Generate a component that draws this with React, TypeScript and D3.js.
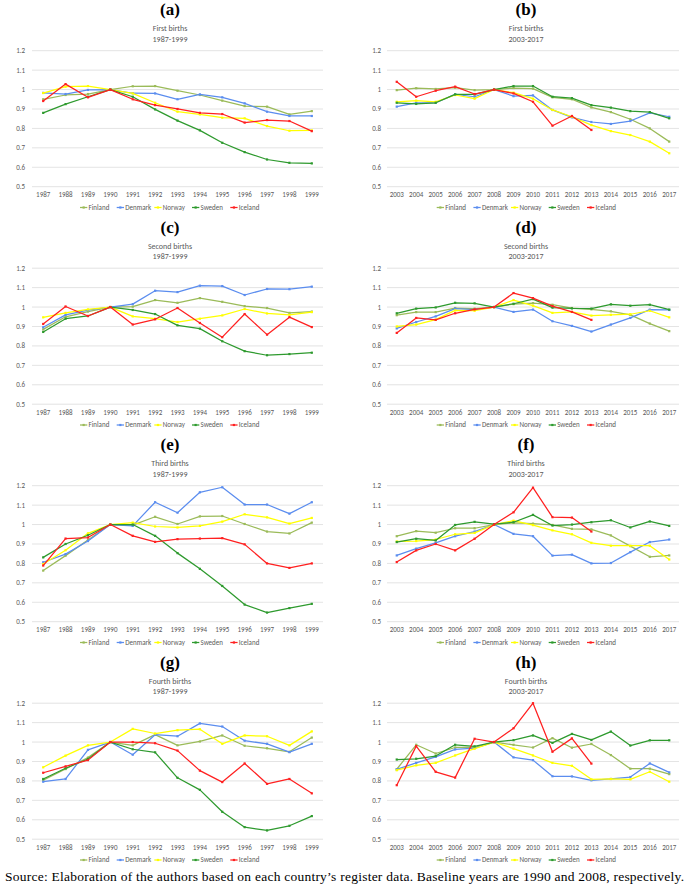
import React from "react";
import * as d3 from "d3";

const COUNTRIES = ["Finland", "Denmark", "Norway", "Sweden", "Iceland"];
const COLORS = ["#9BBB59", "#5B8DEF", "#FFFF00", "#2E9A2E", "#FF2020"];
const YEARS_EARLY = ["1987","1988","1989","1990","1991","1992","1993","1994","1995","1996","1997","1998","1999"];
const YEARS_LATE = ["2003","2004","2005","2006","2007","2008","2009","2010","2011","2012","2013","2014","2015","2016","2017"];
const Y_TICKS = [0.5, 0.6, 0.7, 0.8, 0.9, 1, 1.1, 1.2];

// (a) First births 1987-1999
const A_FINLAND = [0.95, 0.972, 0.977, 1.0, 1.017, 1.018, 0.994, 0.972, 0.943, 0.915, 0.912, 0.872, 0.889];
const A_DENMARK = [0.983, 0.977, 0.998, 1.0, 0.981, 0.98, 0.95, 0.975, 0.96, 0.929, 0.886, 0.864, 0.864];
const A_NORWAY = [0.982, 1.015, 1.018, 1.0, 0.98, 0.932, 0.886, 0.872, 0.855, 0.852, 0.812, 0.788, 0.79];
const A_SWEDEN = [0.88, 0.925, 0.963, 1.0, 0.963, 0.898, 0.84, 0.79, 0.726, 0.678, 0.64, 0.623, 0.62];
const A_ICELAND = [0.941, 1.028, 0.96, 1.0, 0.95, 0.92, 0.9, 0.88, 0.874, 0.83, 0.843, 0.838, 0.786];

// (b) First births 2003-2017
const B_FINLAND = [0.997, 1.007, 1.003, 1.01, 0.997, 1.0, 1.008, 1.005, 0.96, 0.95, 0.908, 0.884, 0.847, 0.8, 0.732];
const B_DENMARK = [0.912, 0.932, 0.932, 0.975, 0.963, 1.0, 0.966, 0.97, 0.895, 0.857, 0.833, 0.823, 0.838, 0.88, 0.86];
const B_NORWAY = [0.937, 0.943, 0.937, 0.972, 0.953, 1.0, 0.984, 0.953, 0.895, 0.86, 0.817, 0.786, 0.766, 0.732, 0.672];
const B_SWEDEN = [0.932, 0.926, 0.932, 0.975, 0.975, 1.0, 1.018, 1.018, 0.963, 0.956, 0.92, 0.907, 0.889, 0.884, 0.852];
const B_ICELAND = [1.04, 0.963, 0.994, 1.015, 0.977, 1.0, 0.98, 0.937, 0.814, 0.864, 0.792, null, null, null, null];

// (c) Second births 1987-1999
const C_FINLAND = [0.885, 0.95, 0.977, 1.0, 1.002, 1.036, 1.022, 1.046, 1.027, 1.005, 0.995, 0.97, 0.977];
const C_DENMARK = [0.896, 0.96, 0.984, 1.0, 1.015, 1.084, 1.077, 1.11, 1.108, 1.062, 1.093, 1.092, 1.105];
const C_NORWAY = [0.947, 0.97, 0.988, 1.0, 0.952, 0.94, 0.923, 0.94, 0.957, 0.99, 0.967, 0.96, 0.974];
const C_SWEDEN = [0.872, 0.94, 0.954, 1.0, 0.985, 0.964, 0.906, 0.889, 0.824, 0.773, 0.752, 0.758, 0.765];
const C_ICELAND = [0.913, 1.003, 0.954, 1.0, 0.91, 0.937, 0.995, 0.918, 0.845, 0.964, 0.858, 0.948, 0.897];

// (d) Second births 2003-2017
const D_FINLAND = [0.958, 0.974, 0.974, 0.995, 0.992, 1.0, 1.015, 1.02, 1.012, 0.995, 0.988, 0.978, 0.96, 0.915, 0.876];
const D_DENMARK = [0.89, 0.923, 0.952, 0.992, 0.987, 1.0, 0.975, 0.987, 0.927, 0.903, 0.874, 0.91, 0.944, 0.987, 0.985];
const D_NORWAY = [0.9, 0.91, 0.935, 0.983, 0.981, 1.0, 1.036, 1.007, 0.97, 0.975, 0.956, 0.96, 0.963, 0.981, 0.947];
const D_SWEDEN = [0.968, 0.992, 0.998, 1.022, 1.019, 1.0, 1.017, 1.041, 0.997, 0.993, 0.992, 1.014, 1.007, 1.012, 0.987];
const D_ICELAND = [0.867, 0.944, 0.934, 0.968, 0.988, 1.0, 1.072, 1.046, 1.005, 0.975, 0.934, null, null, null, null];

// (e) Third births 1987-1999
const E_FINLAND = [0.763, 0.84, 0.92, 1.0, 0.997, 1.04, 1.003, 1.042, 1.044, 1.003, 0.964, 0.954, 1.01];
const E_DENMARK = [0.806, 0.848, 0.915, 1.0, 0.993, 1.115, 1.061, 1.166, 1.192, 1.103, 1.103, 1.056, 1.115];
const E_NORWAY = [0.797, 0.868, 0.955, 1.0, 1.01, 0.99, 0.985, 0.993, 1.015, 1.053, 1.037, 1.005, 1.034];
const E_SWEDEN = [0.831, 0.9, 0.945, 1.0, 1.0, 0.942, 0.853, 0.772, 0.684, 0.588, 0.547, 0.57, 0.592];
const E_ICELAND = [0.789, 0.928, 0.933, 1.0, 0.942, 0.911, 0.925, 0.928, 0.93, 0.898, 0.8, 0.777, 0.8];

// (f) Third births 2003-2017
const F_FINLAND = [0.94, 0.966, 0.958, 0.981, 0.981, 1.0, 1.009, 1.005, 0.998, 0.978, 0.975, 0.944, 0.889, 0.834, 0.841];
const F_DENMARK = [0.841, 0.876, 0.906, 0.94, 0.964, 1.0, 0.952, 0.94, 0.84, 0.845, 0.8, 0.802, 0.858, 0.91, 0.923];
const F_NORWAY = [0.913, 0.915, 0.923, 0.95, 0.957, 1.0, 1.02, 0.997, 0.97, 0.95, 0.906, 0.891, 0.891, 0.891, 0.82];
const F_SWEDEN = [0.91, 0.927, 0.918, 0.998, 1.014, 1.002, 1.012, 1.05, 0.995, 1.0, 1.012, 1.022, 0.985, 1.016, 0.993];
const F_ICELAND = [0.807, 0.867, 0.9, 0.867, 0.927, 1.0, 1.063, 1.19, 1.038, 1.036, 0.964, null, null, null, null];

// (g) Fourth births 1987-1999
const G_FINLAND = [0.804, 0.861, 0.92, 1.0, 0.983, 1.038, 0.983, 1.003, 1.034, 0.981, 0.968, 0.95, 1.023];
const G_DENMARK = [0.796, 0.81, 0.96, 1.0, 0.935, 1.038, 1.03, 1.096, 1.08, 1.007, 0.991, 0.948, 0.991];
const G_NORWAY = [0.87, 0.93, 0.983, 1.0, 1.068, 1.044, 1.061, 1.066, 0.991, 1.034, 1.03, 0.983, 1.055];
const G_SWEDEN = [0.81, 0.865, 0.913, 1.0, 0.963, 0.947, 0.816, 0.754, 0.641, 0.562, 0.545, 0.569, 0.619];
const G_ICELAND = [0.842, 0.875, 0.907, 1.0, 1.0, 0.994, 0.956, 0.853, 0.794, 0.89, 0.785, 0.81, 0.736];

// (h) Fourth births 2003-2017
const H_FINLAND = [0.86, 0.986, 0.941, 0.972, 0.972, 1.0, 0.986, 0.972, 1.02, 0.971, 0.99, 0.933, 0.863, 0.863, 0.835];
const H_DENMARK = [0.859, 0.893, 0.924, 0.962, 0.969, 1.0, 0.921, 0.907, 0.824, 0.823, 0.803, 0.81, 0.82, 0.89, 0.844];
const H_NORWAY = [0.855, 0.88, 0.893, 0.931, 0.966, 1.0, 0.966, 0.931, 0.893, 0.878, 0.808, 0.81, 0.808, 0.847, 0.796];
const H_SWEDEN = [0.91, 0.914, 0.928, 0.986, 0.978, 1.0, 1.01, 1.034, 0.996, 1.042, 1.011, 1.054, 0.982, 1.009, 1.009];
const H_ICELAND = [0.778, 0.979, 0.847, 0.817, 1.017, 1.0, 1.071, 1.2, 0.95, 1.019, 0.889, null, null, null, null];

const PANEL_LABELS = ["(a)", "(b)", "(c)", "(d)", "(e)", "(f)", "(g)", "(h)"];
const PANEL_TITLES = ["First births", "First births", "Second births", "Second births", "Third births", "Third births", "Fourth births", "Fourth births"];
const PANEL_PERIODS = ["1987-1999", "2003-2017", "1987-1999", "2003-2017", "1987-1999", "2003-2017", "1987-1999", "2003-2017"];
const PANEL_SERIES = [
  [A_FINLAND, A_DENMARK, A_NORWAY, A_SWEDEN, A_ICELAND],
  [B_FINLAND, B_DENMARK, B_NORWAY, B_SWEDEN, B_ICELAND],
  [C_FINLAND, C_DENMARK, C_NORWAY, C_SWEDEN, C_ICELAND],
  [D_FINLAND, D_DENMARK, D_NORWAY, D_SWEDEN, D_ICELAND],
  [E_FINLAND, E_DENMARK, E_NORWAY, E_SWEDEN, E_ICELAND],
  [F_FINLAND, F_DENMARK, F_NORWAY, F_SWEDEN, F_ICELAND],
  [G_FINLAND, G_DENMARK, G_NORWAY, G_SWEDEN, G_ICELAND],
  [H_FINLAND, H_DENMARK, H_NORWAY, H_SWEDEN, H_ICELAND],
];

const SOURCE_TEXT = "Source: Elaboration of the authors based on each country\u2019s register data. Baseline years are 1990 and 2008, respectively.";

const SANS = "Carlito, 'Liberation Sans', Arial, sans-serif";
const SERIF = "'Liberation Serif', 'Times New Roman', serif";
const GRAY = "#595959";

const LAYOUT_EARLY = { plotLeft: 32, plotRight: 323, yLabelRight: 25, titleCx: 170, legendStart: 80 };
const LAYOUT_LATE = { plotLeft: 42, plotRight: 334, yLabelRight: 36, titleCx: 181, legendStart: 91.7 };
const LEGEND_OFFSETS = [0, 36.7, 74.3, 112, 150.3];

function Panel({ index }: { index: number }) {
  const col = index % 2;
  const row = Math.floor(index / 2);
  const years = col === 0 ? YEARS_EARLY : YEARS_LATE;
  const L = col === 0 ? LAYOUT_EARLY : LAYOUT_LATE;
  const ox = col * 345;
  const top = 50.7 + row * 217.5;
  const plotH = 136;
  const x = d3.scalePoint<string>().domain(years).range([L.plotLeft, L.plotRight]).padding(0.5);
  const y = d3.scaleLinear().domain([0.5, 1.2]).range([top + plotH, top]);
  const series = PANEL_SERIES[index];
  const line = d3
    .line<number | null>()
    .defined((d) => d !== null)
    .x((_, i) => x(years[i]) as number)
    .y((d) => y(d as number));

  return (
    <g transform={`translate(${ox},0)`}>
      <text x={L.titleCx} y={top - 35.7} textAnchor="middle" fontFamily={SERIF} fontWeight="bold" fontSize={17} fill="#000">
        {PANEL_LABELS[index]}
      </text>
      <text x={L.titleCx} y={top - 19.7} textAnchor="middle" fontFamily={SANS} fontSize={8} fill={GRAY}>
        {PANEL_TITLES[index]}
      </text>
      <text x={L.titleCx} y={top - 9} textAnchor="middle" fontFamily={SANS} fontSize={8} fill={GRAY}>
        {PANEL_PERIODS[index]}
      </text>
      {Y_TICKS.map((t) => (
        <g key={t}>
          <line x1={L.plotLeft} x2={L.plotRight} y1={y(t)} y2={y(t)} stroke="#D9D9D9" strokeWidth={0.75} />
          <text x={L.yLabelRight} y={y(t)} dy="0.35em" textAnchor="end" fontFamily={SANS} fontSize={7} fill={GRAY}>
            {d3.format("")(+t.toFixed(1))}
          </text>
        </g>
      ))}
      {years.map((yr) => (
        <text key={yr} x={x(yr)} y={top + plotH + 10.5} textAnchor="middle" fontFamily={SANS} fontSize={7} fill={GRAY}>
          {yr}
        </text>
      ))}
      {series.map((s, si) => (
        <g key={si}>
          <path d={line(s) || ""} fill="none" stroke={COLORS[si]} strokeWidth={1.25} strokeLinejoin="round" />
          {s.map((v, i) =>
            v === null ? null : (
              <rect key={i} x={(x(years[i]) as number) - 1.1} y={y(v) - 1.1} width={2.2} height={2.2} fill={COLORS[si]} />
            )
          )}
        </g>
      ))}
      {COUNTRIES.map((c, ci) => {
        const lx = L.legendStart + LEGEND_OFFSETS[ci];
        const ly = top + 156.8;
        return (
          <g key={c}>
            <line x1={lx} x2={lx + 7.3} y1={ly} y2={ly} stroke={COLORS[ci]} strokeWidth={1.25} />
            <rect x={lx + 3.65 - 1.1} y={ly - 1.1} width={2.2} height={2.2} fill={COLORS[ci]} />
            <text x={lx + 8.5} y={ly} dy="0.35em" fontFamily={SANS} fontSize={7} fill={GRAY}>
              {c}
            </text>
          </g>
        );
      })}
    </g>
  );
}

export default function App() {
  return (
    <div style={{ position: "absolute", left: 0, top: 0, width: 690, height: 886, background: "#fff" }}>
      <svg width={690} height={886} style={{ display: "block" }}>
        <rect x={0} y={0} width={690} height={886} fill="#fff" />
        {PANEL_SERIES.map((_, i) => (
          <Panel key={i} index={i} />
        ))}
        <text x={5} y={881} fontFamily={SERIF} fontSize={13.5} fill="#000" textLength={679} lengthAdjust="spacing">
          {SOURCE_TEXT}
        </text>
      </svg>
    </div>
  );
}
